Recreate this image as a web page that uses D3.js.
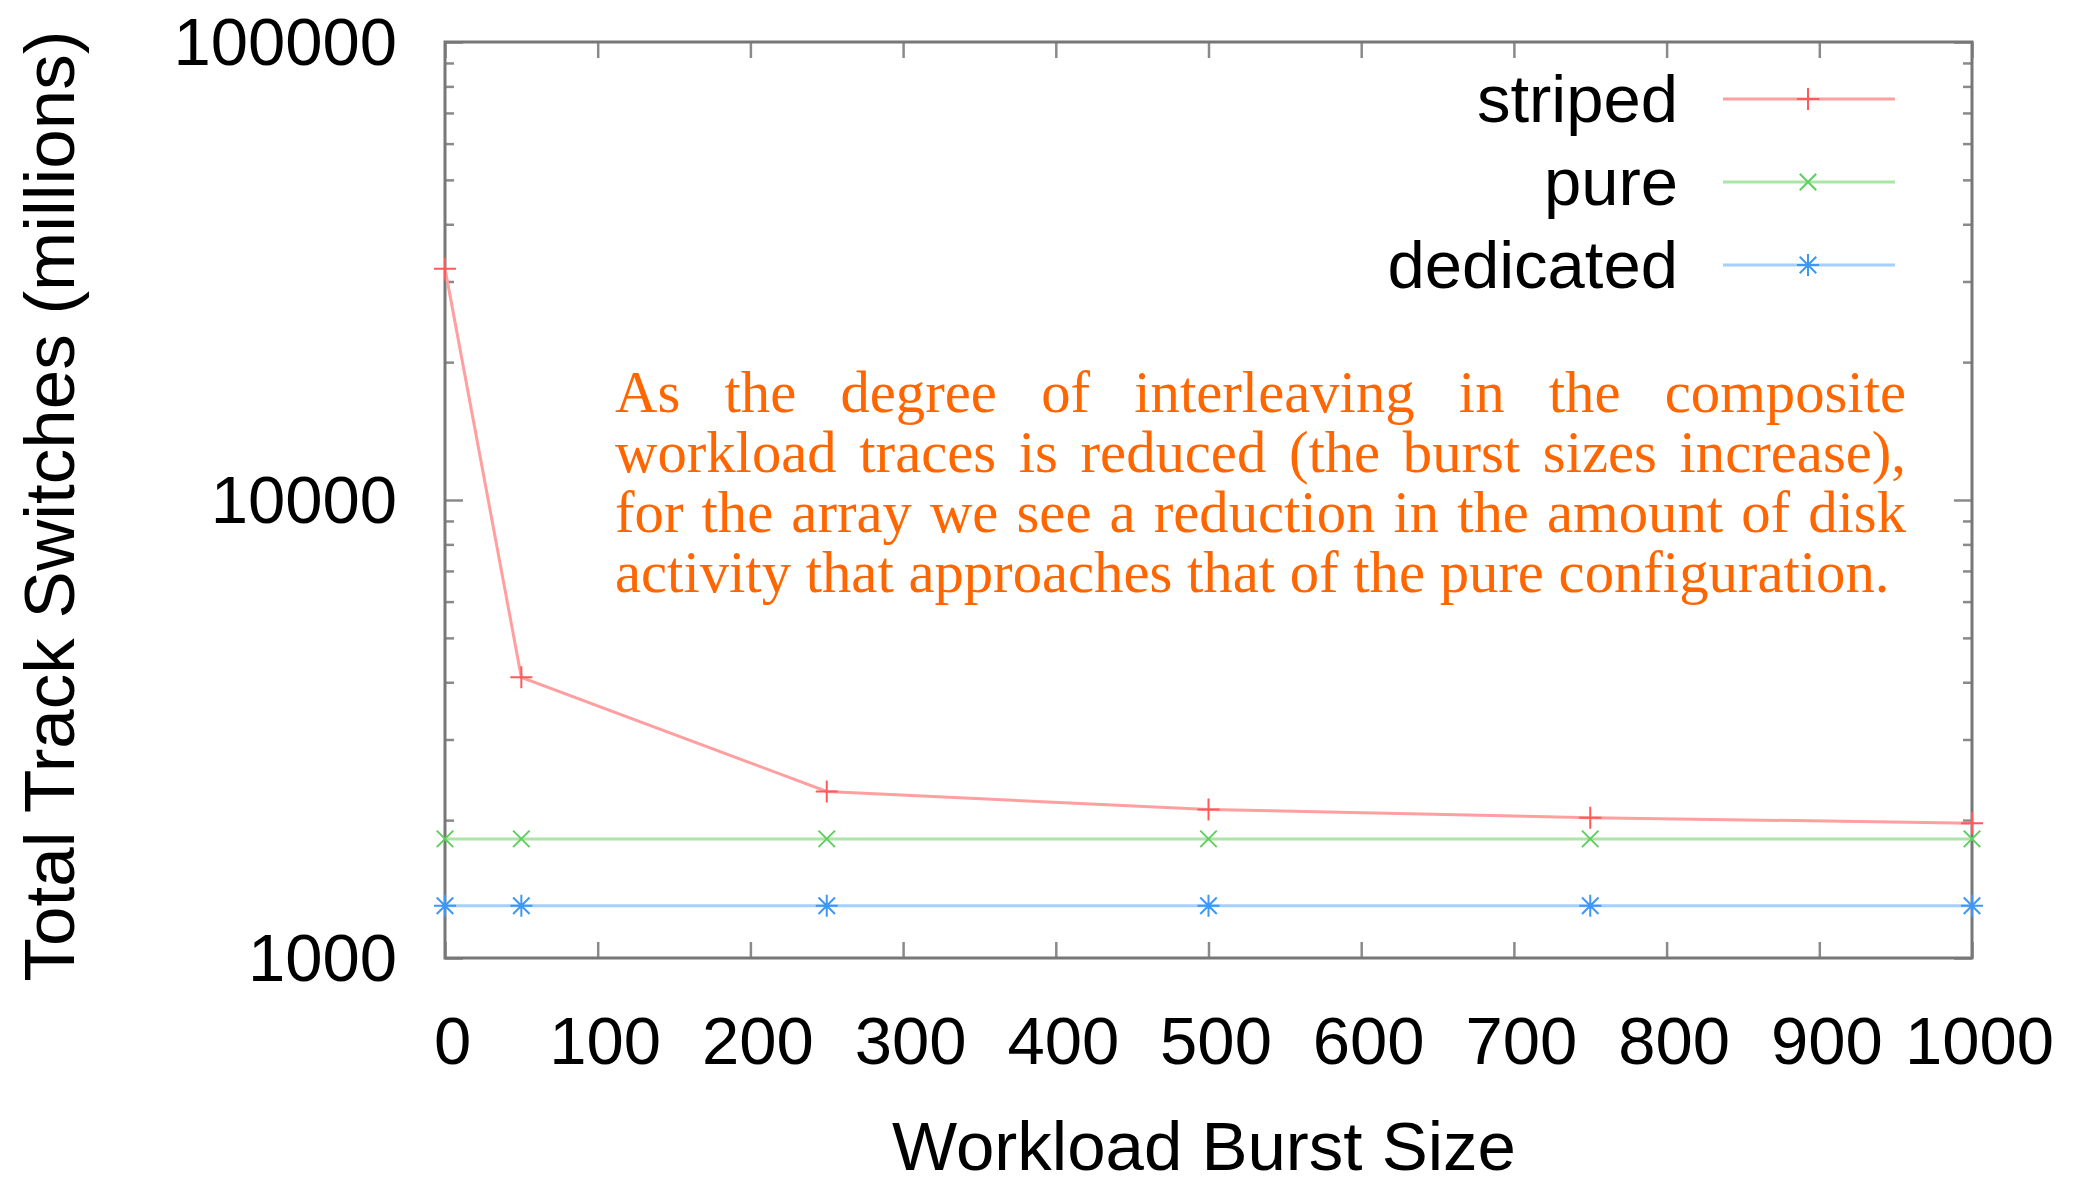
<!DOCTYPE html>
<html>
<head>
<meta charset="utf-8">
<script src="https://cdnjs.cloudflare.com/ajax/libs/d3/7.8.5/d3.min.js"></script>
<style>
    body { margin: 0; background: #fff; }
</style>
</head>
<body>
<div id="main"></div>
<script>
var ctx = {
    w: 2075,
    h: 1187,
    left: 445,
    right: 1972,
    top: 42,
    bottom: 958,
};

// values (millions of track switches)
var burstSizes = [0, 50, 250, 500, 750, 1000];
var stripedValues = [32000, 4100, 2310, 2110, 2025, 1970];
var pureValues = [1820, 1820, 1820, 1820, 1820, 1820];
var dedicatedValues = [1300, 1300, 1300, 1300, 1300, 1300];
var seriesNames = ["striped", "pure", "dedicated"];
var xTickValues = [0, 100, 200, 300, 400, 500, 600, 700, 800, 900, 1000];
var yTickValues = [1000, 10000, 100000];
var noteLines = [
    "As the degree of interleaving in the composite",
    "workload traces is reduced (the burst sizes increase),",
    "for the array we see a reduction in the amount of disk",
    "activity that approaches that of the pure configuration.",
];

var lineColors = ["#ff9f9f", "#aae6a6", "#a6cffc"];
var markColors = ["#ff5a5a", "#5fcf5f", "#3d97f5"];
var markTypes = ["plus", "cross", "star"];
var sansFont = "'Liberation Sans', Arial, Helvetica, sans-serif";

var markerPath = function (type, r) {
    var p = d3.path();
    if (type == "plus" || type == "star") {
        p.moveTo(-r, 0); p.lineTo(r, 0);
        p.moveTo(0, -r); p.lineTo(0, r);
    }
    if (type == "cross" || type == "star") {
        var q = r * 0.75;
        p.moveTo(-q, -q); p.lineTo(q, q);
        p.moveTo(-q, q); p.lineTo(q, -q);
    }
    return p.toString();
};

var createViz = function () {
    var svg = d3.select("#main").append("svg")
        .attr("width", ctx.w)
        .attr("height", ctx.h)
        .style("display", "block");
    svg.append("rect").attr("width", ctx.w).attr("height", ctx.h).attr("fill", "#fff");

    var x = d3.scaleLinear().domain([0, 1000]).range([ctx.left, ctx.right]);
    var y = d3.scaleLog().domain([1000, 100000]).range([ctx.bottom, ctx.top]);

    var minorTicks = [];
    [1000, 10000].forEach(function (d) {
        for (var k = 2; k < 10; k++) minorTicks.push(d * k);
    });

    var tickStyle = function (g) {
        g.select(".domain").remove();
        g.selectAll(".tick line").attr("stroke", "#8a8a8a").attr("stroke-width", 2.5);
        g.selectAll(".tick text")
            .attr("fill", "#000")
            .style("font-family", sansFont)
            .style("font-size", "67px");
    };

    // x ticks, bottom with labels and top without
    svg.append("g")
        .attr("transform", "translate(0," + ctx.bottom + ")")
        .call(d3.axisBottom(x).tickValues(xTickValues).tickFormat(d3.format("d")).tickSize(-16).tickPadding(58))
        .call(tickStyle)
        .selectAll(".tick text").attr("dx", 7);
    svg.append("g")
        .attr("transform", "translate(0," + ctx.top + ")")
        .call(d3.axisTop(x).tickValues(xTickValues).tickFormat("").tickSize(-16))
        .call(tickStyle);

    // y ticks, major and log minor on both sides
    svg.append("g")
        .attr("transform", "translate(" + ctx.left + ",0)")
        .call(d3.axisLeft(y).tickValues(yTickValues).tickFormat(d3.format("d")).tickSize(-18).tickPadding(48))
        .call(tickStyle)
        .selectAll(".tick text").attr("dy", "0.34em");
    svg.append("g")
        .attr("transform", "translate(" + ctx.left + ",0)")
        .call(d3.axisLeft(y).tickValues(minorTicks).tickFormat("").tickSize(-9))
        .call(tickStyle);
    svg.append("g")
        .attr("transform", "translate(" + ctx.right + ",0)")
        .call(d3.axisRight(y).tickValues(yTickValues).tickFormat("").tickSize(-18))
        .call(tickStyle);
    svg.append("g")
        .attr("transform", "translate(" + ctx.right + ",0)")
        .call(d3.axisRight(y).tickValues(minorTicks).tickFormat("").tickSize(-9))
        .call(tickStyle);

    svg.append("rect")
        .attr("x", ctx.left)
        .attr("y", ctx.top)
        .attr("width", ctx.right - ctx.left)
        .attr("height", ctx.bottom - ctx.top)
        .attr("fill", "none")
        .attr("stroke", "#777")
        .attr("stroke-width", 3);

    // axis titles
    svg.append("text")
        .attr("transform", "translate(74,506) rotate(-90)")
        .attr("text-anchor", "middle")
        .style("font-family", sansFont)
        .style("font-size", "71px")
        .text("Total Track Switches (millions)");
    svg.append("text")
        .attr("x", 1204)
        .attr("y", 1170)
        .attr("text-anchor", "middle")
        .style("font-family", sansFont)
        .style("font-size", "69px")
        .text("Workload Burst Size");

    drawNote(svg);

    // series
    var series = [stripedValues, pureValues, dedicatedValues].map(function (vals, i) {
        return {
            name: seriesNames[i],
            points: burstSizes.map(function (b, j) { return { x: b, y: vals[j] }; }),
        };
    });

    var line = d3.line()
        .x(function (d) { return x(d.x); })
        .y(function (d) { return y(d.y); });

    series.forEach(function (s, i) {
        var g = svg.append("g").attr("class", "series " + s.name);
        g.append("path")
            .datum(s.points)
            .attr("d", line)
            .attr("fill", "none")
            .attr("stroke", lineColors[i])
            .attr("stroke-width", 3);
        g.selectAll("path.mark")
            .data(s.points)
            .enter()
            .append("path")
            .attr("class", "mark")
            .attr("transform", function (d) {
                return "translate(" + x(d.x) + "," + y(d.y) + ")";
            })
            .attr("d", markerPath(markTypes[i], 11))
            .attr("stroke", markColors[i])
            .attr("stroke-width", 2)
            .attr("fill", "none");
    });

    // legend
    var legendRows = [99, 182, 265];
    var legend = svg.append("g").attr("class", "legend");
    seriesNames.forEach(function (name, i) {
        var row = legend.append("g").attr("transform", "translate(0," + legendRows[i] + ")");
        row.append("text")
            .attr("x", 1678)
            .attr("dy", "0.35em")
            .attr("text-anchor", "end")
            .style("font-family", sansFont)
            .style("font-size", "67px")
            .text(name);
        row.append("line")
            .attr("x1", 1723)
            .attr("x2", 1895)
            .attr("stroke", lineColors[i])
            .attr("stroke-width", 3);
        row.append("path")
            .attr("transform", "translate(1808,0)")
            .attr("d", markerPath(markTypes[i], 11))
            .attr("stroke", markColors[i])
            .attr("stroke-width", 2)
            .attr("fill", "none");
    });
};

// justified orange note, last line left aligned
var drawNote = function (svg) {
    var noteLeft = 615,
        noteRight = 1906,
        firstBase = 412,
        gap = 60,
        size = 58.7;
    var g = svg.append("g")
        .attr("fill", "#ff6600")
        .style("font-family", "'Liberation Serif', 'Times New Roman', serif")
        .style("font-size", size + "px");
    noteLines.forEach(function (txt, i) {
        var words = txt.split(" ");
        var t = g.append("text").attr("y", firstBase + i * gap);
        var spans = words.map(function (w) {
            return t.append("tspan").text(w);
        });
        var widths = spans.map(function (s) {
            return s.node().getComputedTextLength();
        });
        var space = size * 0.25;
        if (i < noteLines.length - 1) {
            space = (noteRight - noteLeft - d3.sum(widths)) / (words.length - 1);
        }
        var cx = noteLeft;
        spans.forEach(function (s, j) {
            s.attr("x", cx);
            cx += widths[j] + space;
        });
    });
};

createViz();
</script>
</body>
</html>
